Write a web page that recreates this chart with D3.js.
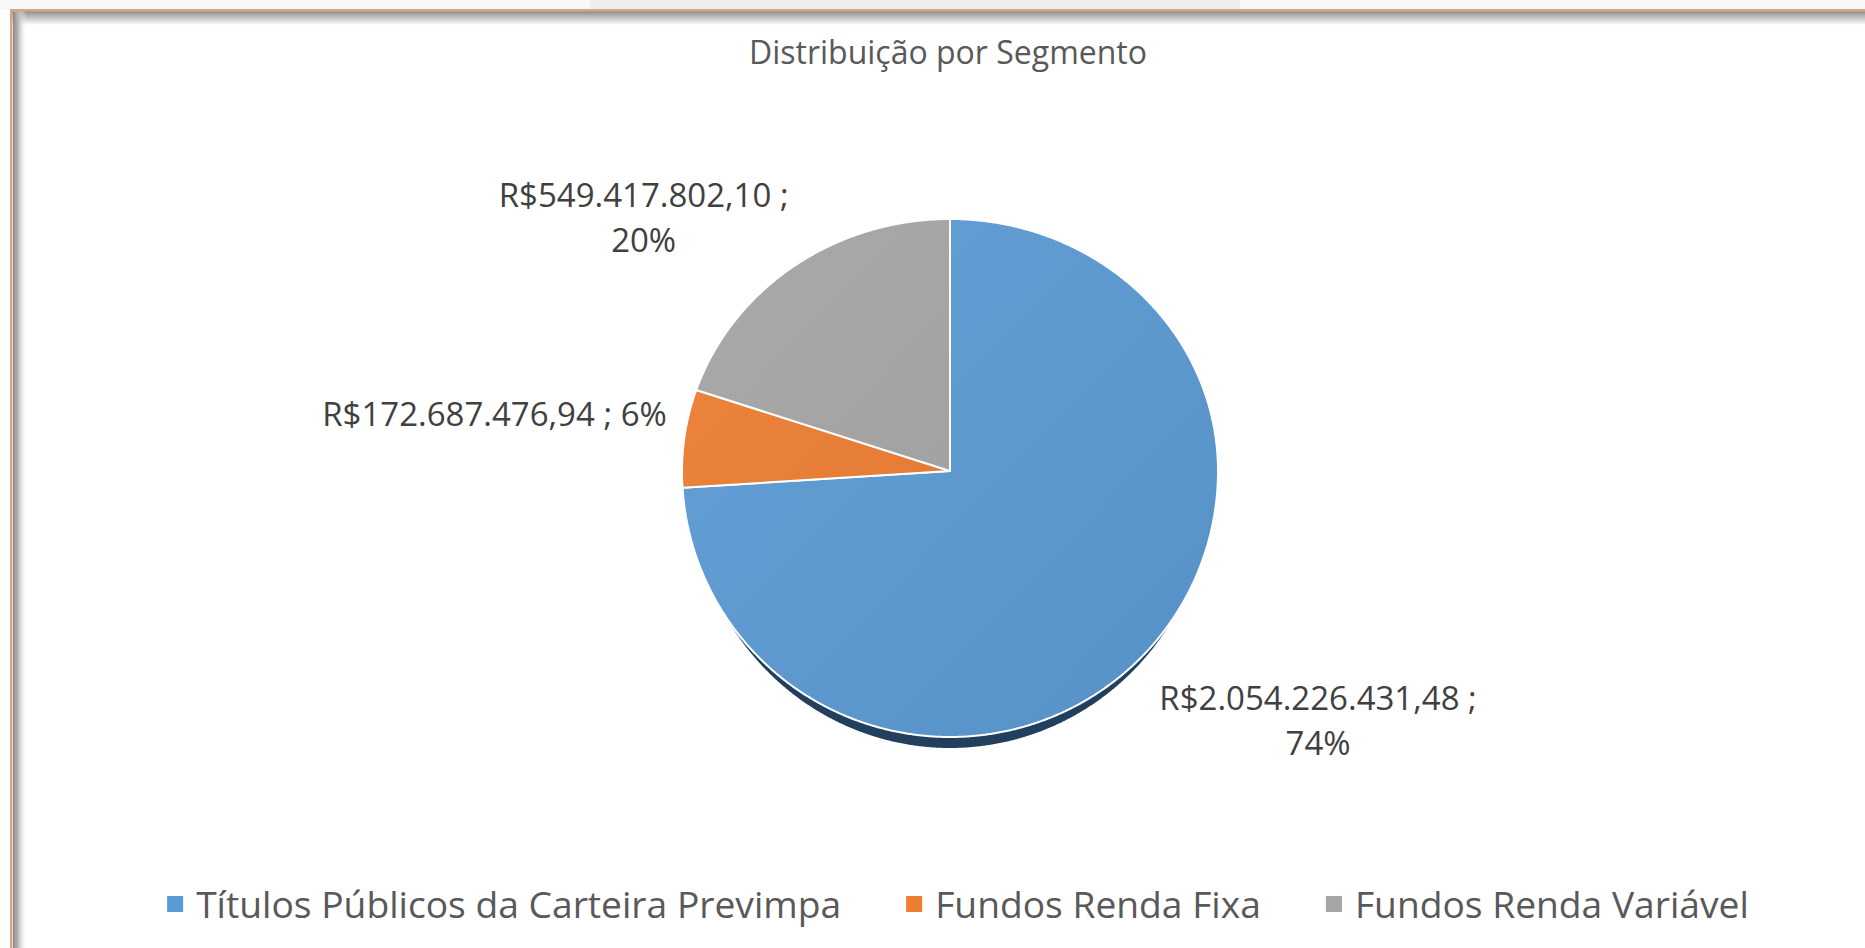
<!DOCTYPE html>
<html>
<head>
<meta charset="utf-8">
<script src="https://cdn.jsdelivr.net/npm/d3@7"></script>
<style>
  html, body { margin: 0; padding: 0; background: #fff; }
  svg { display: block; font-family: "Open Sans", sans-serif; }
</style>
</head>
<body>
<svg id="chart" width="1865" height="948"></svg>
<script>
var chartTitle = 'Distribuição por Segmento';
var categories = ['Títulos Públicos da Carteira Previmpa', 'Fundos Renda Fixa', 'Fundos Renda Variável'];
var values = [2054226431.48, 172687476.94, 549417802.10];
var colors = ['#5B9BD5', '#ED7D31', '#A5A5A5'];

var width = 1865, height = 948;
var cx = 950, cy = 471;
var rx = 268, ryTop = 252, ryBot = 266;

var ptBR = d3.formatLocale({decimal: ',', thousands: '.', grouping: [3], currency: ['R$', '']});
var money = ptBR.format('$,.2f');
var pct = d3.format('.0%');
var total = d3.sum(values);

var svg = d3.select('#chart');
var defs = svg.append('defs');

// frame: tan line + inner shadow on top and left
svg.append('rect').attr('x', 0).attr('y', 0).attr('width', width).attr('height', 9).attr('fill', '#f7f7f7');
svg.append('rect').attr('x', 590).attr('y', 0).attr('width', 650).attr('height', 9).attr('fill', '#eeeeee');

var gTop = defs.append('linearGradient').attr('id', 'shTop').attr('x1', 0).attr('y1', 0).attr('x2', 0).attr('y2', 1);
gTop.append('stop').attr('offset', 0).attr('stop-color', '#8a8a8a');
gTop.append('stop').attr('offset', 0.35).attr('stop-color', '#b5b5b5');
gTop.append('stop').attr('offset', 1).attr('stop-color', '#ffffff');
var gLeft = defs.append('linearGradient').attr('id', 'shLeft').attr('x1', 0).attr('y1', 0).attr('x2', 1).attr('y2', 0);
gLeft.append('stop').attr('offset', 0).attr('stop-color', '#8a8a8a');
gLeft.append('stop').attr('offset', 0.35).attr('stop-color', '#b5b5b5');
gLeft.append('stop').attr('offset', 1).attr('stop-color', '#ffffff').attr('stop-opacity', 0);

svg.append('rect').attr('x', 11).attr('y', 11).attr('width', width - 11).attr('height', 14).attr('fill', 'url(#shTop)');
svg.append('rect').attr('x', 13).attr('y', 11).attr('width', 14).attr('height', height - 11).attr('fill', 'url(#shLeft)');
svg.append('rect').attr('x', 10).attr('y', 9).attr('width', width - 10).attr('height', 2.5).attr('fill', '#dba585');
svg.append('rect').attr('x', 10).attr('y', 9).attr('width', 2.5).attr('height', height - 9).attr('fill', '#dba585');

// title
svg.append('text')
    .attr('x', 948)
    .attr('y', 64)
    .attr('text-anchor', 'middle')
    .style('font-size', '32px')
    .style('fill', '#595959')
    .text(chartTitle);

// pie geometry: angles from d3.pie, unit directions mapped to pixels by scales
var xs = d3.scaleLinear().domain([-1, 1]).range([cx - rx, cx + rx]);
var ysTop = d3.scaleLinear().domain([0, 1]).range([cy, cy - ryTop]);
var ysBot = d3.scaleLinear().domain([0, 1]).range([cy, cy + ryBot]);

function edgePoint(a, dy, shrink) {
  var s = Math.sin(a), c = Math.cos(a);
  var x = cx + (xs(s) - cx) * (shrink || 1);
  var y = c > 0 ? ysTop(c) : ysBot(-c);
  return [x, y + (dy || 0)];
}

function slicePath(d, dy, shrink) {
  var n = Math.max(2, Math.ceil((d.endAngle - d.startAngle) / 0.005));
  var pts = d3.range(n + 1).map(function(i) {
    return edgePoint(d.startAngle + (d.endAngle - d.startAngle) * i / n, dy, shrink);
  });
  if (d.endAngle - d.startAngle < Math.PI * 2 - 1e-6) pts.unshift([cx, cy + (dy || 0)]);
  return d3.line()(pts) + 'Z';
}

var pie = d3.pie().sort(null).value(function(d) { return d.value; });
var data = categories.map(function(c, i) { return {name: c, value: values[i], color: colors[i]}; });
var arcs = pie(data);

// shadow under the pie
svg.append('path')
    .attr('d', slicePath({startAngle: 0, endAngle: Math.PI * 2}, 11, 260 / 268))
    .attr('fill', '#22405e');

arcs.forEach(function(d, i) {
  var g = defs.append('linearGradient')
      .attr('id', 'grad' + i)
      .attr('gradientUnits', 'userSpaceOnUse')
      .attr('x1', cx - rx).attr('y1', cy - ryTop)
      .attr('x2', cx + rx).attr('y2', cy + ryBot);
  g.append('stop').attr('offset', 0).attr('stop-color', d3.interpolateRgb(d.data.color, '#fff')(0.06));
  g.append('stop').attr('offset', 1).attr('stop-color', d3.interpolateRgb(d.data.color, '#000')(0.07));
});

svg.append('g').attr('class', 'slices')
    .selectAll('path')
    .data(arcs)
    .enter()
    .append('path')
    .attr('d', function(d) { return slicePath(d); })
    .attr('fill', function(d, i) { return 'url(#grad' + i + ')'; })
    .attr('stroke', '#fff')
    .attr('stroke-width', 2)
    .attr('stroke-linejoin', 'round');

// data labels, outside end: nearest box corner sits on the mid-angle ray
var labelSize = 33, lineH = 45, gap = 20, wrapWidth = 355;
var labelNudge = {'Fundos Renda Variável': [0, 17], 'Títulos Públicos da Carteira Previmpa': [0, 8], 'Fundos Renda Fixa': [2, 3]};

var labelG = svg.append('g').attr('class', 'labels');
arcs.forEach(function(d) {
  var t = labelG.append('text')
      .attr('text-anchor', 'middle')
      .style('font-size', labelSize + 'px')
      .style('fill', '#404040');
  var full = money(d.data.value) + ' ; ' + pct(d.data.value / total);
  var probe = t.append('tspan').text(full);
  var lines = probe.node().getComputedTextLength() > wrapWidth
      ? [money(d.data.value) + ' ;', pct(d.data.value / total)]
      : [full];
  probe.remove();

  var spans = t.selectAll('tspan').data(lines).enter().append('tspan').text(function(s) { return s; });
  var w = d3.max(spans.nodes(), function(n) { return n.getComputedTextLength(); });
  var h = lines.length * lineH;

  var a = (d.startAngle + d.endAngle) / 2;
  var ux = Math.sin(a), uy = -Math.cos(a);
  var ry = uy < 0 ? ryTop : ryBot;
  var re = 1 / Math.sqrt(Math.pow(ux / rx, 2) + Math.pow(uy / ry, 2));
  var ax = cx + (re + gap) * ux, ay = cy + (re + gap) * uy;
  var nudge = labelNudge[d.data.name] || [0, 0];
  var left = (ux < 0 ? ax - w : ax) + nudge[0];
  var top = (uy < 0 ? ay - h : ay) + nudge[1];

  spans.attr('x', left + w / 2)
      .attr('y', function(s, i) { return top + lineH / 2 + i * lineH + labelSize * 0.36; });
});

// legend
var legendSize = 37.2, sq = 16, sqGap = 13, itemGap = 65, legendCenter = 958, legendBase = 918;
var legend = svg.append('g').attr('class', 'legend');
var items = legend.selectAll('g').data(data).enter().append('g');
items.append('rect')
    .attr('width', sq).attr('height', sq)
    .attr('y', legendBase - 22)
    .attr('fill', function(d) { return d.color; });
items.append('text')
    .attr('x', sq + sqGap)
    .attr('y', legendBase)
    .style('font-size', legendSize + 'px')
    .style('fill', '#595959')
    .text(function(d) { return d.name; });

var widths = items.select('text').nodes().map(function(n) { return sq + sqGap + n.getComputedTextLength(); });
var totalW = d3.sum(widths) + itemGap * (widths.length - 1);
var x0 = legendCenter - totalW / 2;
items.attr('transform', function(d, i) {
  var x = x0 + d3.sum(widths.slice(0, i)) + itemGap * i;
  return 'translate(' + x + ',0)';
});
</script>
</body>
</html>
